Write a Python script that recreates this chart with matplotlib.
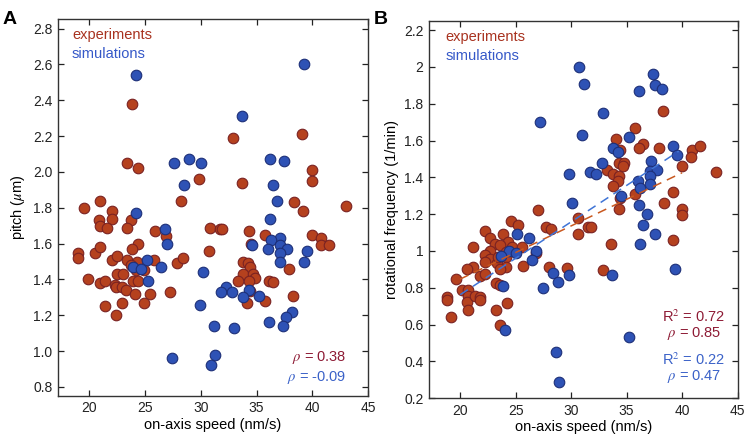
import matplotlib
matplotlib.use("Agg")
import matplotlib.pyplot as plt
import numpy as np

plt.rcParams['font.family'] = ['Liberation Sans', 'DejaVu Sans']
plt.rcParams['mathtext.fontset'] = 'stix'

# ---------------- Panel A data: pitch vs on-axis speed ----------------
expA_speed = [19.5, 21.0, 22.0, 23.8, 23.4, 24.4, 29.8, 28.2, 32.9, 33.7, 39.1, 40.0, 40.0, 38.4, 39.2, 43.0,
              22.0, 20.9, 21.0, 21.6, 23.7, 23.4, 25.9, 26.9, 30.8, 31.7, 31.9, 34.3, 34.5, 35.8,
              40.0, 40.8, 40.8, 41.5, 37.9, 33.8, 34.2, 34.4, 33.8, 34.7, 34.9, 34.3, 33.3, 36.1, 36.5,
              34.4, 34.1, 35.8, 38.3,
              30.7, 19.0, 19.0, 20.5, 21.0, 24.4, 23.8, 22.0, 22.5, 23.4, 24.3, 25.8, 23.7, 24.2, 24.9,
              27.9, 28.4, 22.5, 23.0, 19.9, 21.0, 21.4, 22.3, 22.4, 22.9, 23.9, 24.4, 23.3, 24.1, 25.4,
              27.2, 21.4, 22.9, 24.9, 22.4]
expA_pitch = [1.80, 1.84, 1.78, 2.38, 2.05, 2.02, 1.96, 1.84, 2.19, 1.94, 2.21, 2.01, 1.95, 1.83, 1.78, 1.81,
              1.74, 1.73, 1.70, 1.69, 1.73, 1.69, 1.67, 1.64, 1.69, 1.68, 1.68, 1.67, 1.60, 1.65,
              1.65, 1.63, 1.59, 1.59, 1.46, 1.50, 1.49, 1.47, 1.43, 1.43, 1.41, 1.39, 1.39, 1.39, 1.385,
              1.335, 1.27, 1.28, 1.31,
              1.56, 1.55, 1.52, 1.55, 1.58, 1.60, 1.57, 1.51, 1.53, 1.51, 1.50, 1.51, 1.48, 1.455, 1.455,
              1.49, 1.52, 1.43, 1.43, 1.40, 1.38, 1.39, 1.37, 1.36, 1.36, 1.39, 1.39, 1.34, 1.32, 1.32,
              1.33, 1.25, 1.27, 1.27, 1.20]

simA_speed = [24.2, 39.3, 33.7, 27.6, 28.9, 30.0, 28.5, 36.2, 37.5, 36.5, 36.8, 24.2, 36.2,
              37.1, 36.3, 34.6, 36.0, 37.1, 37.7, 37.1, 39.5, 37.1, 39.3, 30.2, 32.3, 31.8, 32.8, 34.3,
              33.8, 35.2, 38.2, 37.6, 37.4, 36.1, 31.2, 33.0, 31.3, 30.9, 29.9,
              26.8, 27.0, 25.2, 23.9, 24.6, 26.4, 25.3, 27.4]
simA_pitch = [2.54, 2.60, 2.31, 2.05, 2.07, 2.05, 1.93, 2.07, 2.06, 1.93, 1.84, 1.77, 1.74,
              1.63, 1.62, 1.59, 1.57, 1.59, 1.57, 1.55, 1.56, 1.50, 1.50, 1.44, 1.36, 1.33, 1.33, 1.34,
              1.30, 1.31, 1.22, 1.19, 1.14, 1.16, 1.14, 1.13, 0.98, 0.92, 1.26,
              1.68, 1.60, 1.51, 1.47, 1.46, 1.47, 1.39, 0.96]

# ---------------- Panel B data: rotational frequency vs on-axis speed ----------------
expB_speed = [38.3, 35.8, 34.0, 36.5, 36.1, 37.9, 34.4, 40.9, 41.6, 40.8, 34.3, 34.8, 34.7, 40.0, 33.2,
              33.8, 34.3, 34.2, 33.8, 43.1, 39.2, 35.8, 34.4, 38.4, 34.3, 40.0, 40.0, 30.6, 27.0, 24.6,
              31.5, 31.8, 30.6, 33.6, 39.2, 27.7, 28.2, 25.2, 22.2, 22.7, 23.1, 23.9, 24.3, 23.6, 24.7,
              25.6, 21.2, 22.7, 22.2, 22.7, 22.2, 23.3, 23.4, 24.1, 24.1, 24.1, 23.6, 25.7, 26.8, 21.2,
              20.6, 21.8, 22.2, 19.6, 28.0, 29.6, 32.9, 23.2, 23.6, 20.2, 20.7, 20.7, 20.6, 21.3, 21.8,
              21.8, 18.8, 18.8, 20.7, 23.2, 24.2, 19.2, 23.6]
expB_freq = [1.76, 1.67, 1.61, 1.58, 1.56, 1.56, 1.55, 1.55, 1.57, 1.51, 1.48, 1.48, 1.46, 1.46, 1.44,
             1.42, 1.41, 1.38, 1.355, 1.43, 1.32, 1.31, 1.29, 1.26, 1.23, 1.23, 1.195, 1.18, 1.22, 1.16,
             1.13, 1.13, 1.09, 1.04, 1.06, 1.13, 1.12, 1.14, 1.11, 1.07, 1.04, 1.09, 1.05, 1.03, 1.02,
             1.02, 1.02, 1.00, 0.98, 0.955, 0.94, 0.935, 0.967, 0.996, 0.967, 0.911, 0.902, 0.92, 0.987, 0.913,
             0.90, 0.864, 0.875, 0.845, 0.913, 0.907, 0.898, 0.824, 0.815, 0.785, 0.789, 0.753, 0.725, 0.753, 0.749,
             0.735, 0.749, 0.731, 0.678, 0.678, 0.715, 0.642, 0.595]

simB_speed = [30.7, 31.2, 37.4, 37.6, 38.2, 36.1, 32.9, 27.2, 31.0, 35.2, 33.8, 34.2, 39.2, 39.5, 37.2,
              32.8, 29.8, 31.7, 32.2, 37.15, 37.7, 37.15, 36.0, 36.2, 37.15, 34.5, 30.1, 36.1, 36.8,
              36.5, 37.6, 36.2, 25.1, 26.2, 24.4, 25.0, 26.8, 23.7, 26.5, 28.4, 28.8, 29.8, 27.5, 33.7,
              23.9, 24.0, 39.4, 35.2, 28.6, 28.9]
simB_freq = [2.00, 1.91, 1.96, 1.90, 1.88, 1.87, 1.75, 1.70, 1.63, 1.62, 1.56, 1.54, 1.57, 1.52, 1.49,
             1.48, 1.42, 1.43, 1.42, 1.436, 1.44, 1.405, 1.38, 1.34, 1.364, 1.30, 1.26, 1.25, 1.20,
             1.14, 1.09, 1.04, 1.09, 1.07, 1.00, 0.99, 1.00, 0.97, 0.95, 0.88, 0.83, 0.87, 0.80, 0.87,
             0.81, 0.57, 0.90, 0.53, 0.45, 0.29]

# linear fits: [x_start, x_end, slope, intercept]
fit_exp = [20.0, 40.0, 0.0289, 0.269]
fit_sim = [20.0, 39.7, 0.0396, -0.030]

# annotations
statsA = {'exp': r'$\rho$ = 0.38', 'sim': r'$\rho$ = -0.09'}
statsB = {'exp_r2': 'R$^2$ = 0.72', 'exp_rho': r'$\rho$ = 0.85',
          'sim_r2': 'R$^2$ = 0.22', 'sim_rho': r'$\rho$ = 0.47'}

# ---------------- styles ----------------
RED_FILL = '#B5411E'
RED_EDGE = '#7A2222'
BLUE_FILL = '#2E52B5'
BLUE_EDGE = '#1D2F78'
TXT_RED = '#A8321F'
TXT_BLUE = '#3558C8'
STAT_RED = '#8E1B35'
STAT_BLUE = '#3B62C8'
LINE_RED = '#C9581F'
LINE_BLUE = '#3F74D6'

fig = plt.figure(figsize=(7.45, 4.37), dpi=100)
axA = fig.add_axes([0.078, 0.094, 0.416, 0.863])
axB = fig.add_axes([0.576, 0.089, 0.414, 0.863])

ms = 58
for ax in (axA, axB):
    ax.tick_params(direction='in', top=True, right=True, length=4, width=0.9,
                   labelsize=10, colors='#222222', pad=4)
    for sp in ax.spines.values():
        sp.set_linewidth(1.0)
        sp.set_color('#333333')
    ax.set_xlim(17.2, 45)
    ax.set_xticks([20, 25, 30, 35, 40, 45])
    ax.set_xlabel('on-axis speed (nm/s)', fontsize=10.5, labelpad=2)

# Panel A
axA.scatter(expA_speed, expA_pitch, s=ms, c=RED_FILL, edgecolors=RED_EDGE, linewidths=0.8, zorder=3)
axA.scatter(simA_speed, simA_pitch, s=ms, c=BLUE_FILL, edgecolors=BLUE_EDGE, linewidths=0.8, zorder=3)
axA.set_ylim(0.75, 2.855)
axA.set_yticks(np.arange(0.8, 2.81, 0.2))
axA.set_yticklabels([f'{v:.1f}' for v in np.arange(0.8, 2.81, 0.2)])
axA.set_ylabel(r'pitch ($\mu$m)', fontsize=10.5, labelpad=4)
axA.text(0.045, 0.957, 'experiments', color=TXT_RED, fontsize=10.5, transform=axA.transAxes, va='center')
axA.text(0.045, 0.907, 'simulations', color=TXT_BLUE, fontsize=10.5, transform=axA.transAxes, va='center')
axA.text(0.93, 0.103, statsA['exp'], color=STAT_RED, fontsize=10.5, transform=axA.transAxes, va='center', ha='right')
axA.text(0.93, 0.050, statsA['sim'], color=STAT_BLUE, fontsize=10.5, transform=axA.transAxes, va='center', ha='right')

# Panel B
axB.scatter(expB_speed, expB_freq, s=ms, c=RED_FILL, edgecolors=RED_EDGE, linewidths=0.8, zorder=3)
axB.scatter(simB_speed, simB_freq, s=ms, c=BLUE_FILL, edgecolors=BLUE_EDGE, linewidths=0.8, zorder=3)
for fit, col in ((fit_exp, LINE_RED), (fit_sim, LINE_BLUE)):
    xs = np.array(fit[:2])
    axB.plot(xs, fit[2] * xs + fit[3], color=col, lw=1.1, ls=(0, (6, 4)), zorder=4)
axB.set_ylim(0.2, 2.25)
bt = [0.2, 0.4, 0.6, 0.8, 1.0, 1.2, 1.4, 1.6, 1.8, 2.0, 2.2]
axB.set_yticks(bt)
axB.set_yticklabels([f'{v:g}' for v in bt])
axB.set_ylabel('rotational frequency (1/min)', fontsize=10.5, labelpad=4)
axB.text(0.052, 0.958, 'experiments', color=TXT_RED, fontsize=10.5, transform=axB.transAxes, va='center')
axB.text(0.052, 0.907, 'simulations', color=TXT_BLUE, fontsize=10.5, transform=axB.transAxes, va='center')
axB.text(0.858, 0.215, statsB['exp_r2'], color=STAT_RED, fontsize=10.5, transform=axB.transAxes, va='center', ha='center')
axB.text(0.858, 0.172, statsB['exp_rho'], color=STAT_RED, fontsize=10.5, transform=axB.transAxes, va='center', ha='center')
axB.text(0.858, 0.101, statsB['sim_r2'], color=STAT_BLUE, fontsize=10.5, transform=axB.transAxes, va='center', ha='center')
axB.text(0.858, 0.056, statsB['sim_rho'], color=STAT_BLUE, fontsize=10.5, transform=axB.transAxes, va='center', ha='center')

fig.text(0.004, 0.975, 'A', fontsize=14, fontweight='bold', va='top', ha='left')
fig.text(0.502, 0.975, 'B', fontsize=14, fontweight='bold', va='top', ha='left')

fig.savefig('out.png', dpi=100)
